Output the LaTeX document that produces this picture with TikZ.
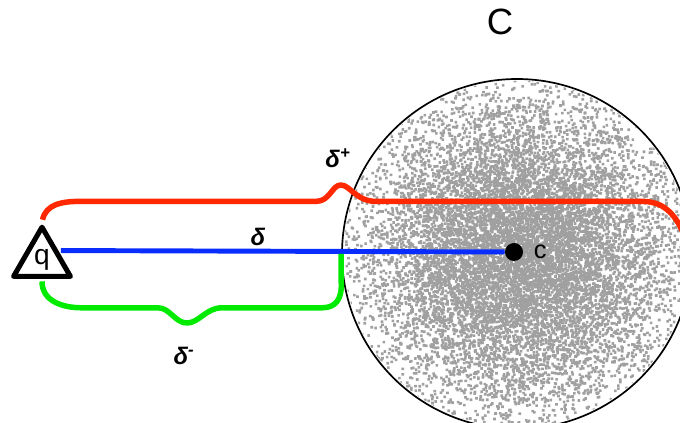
\documentclass[tikz,border=0pt]{standalone}
\usepackage{fontspec}
\setmainfont{Liberation Sans}
\usetikzlibrary{shapes.geometric,positioning,calc}
\definecolor{rim}{RGB}{255,40,0}
\definecolor{ray}{RGB}{10,45,255}
\definecolor{lawn}{RGB}{0,235,0}
\definecolor{speck}{RGB}{160,160,160}
\tikzset{
  bracket/.style={draw=#1,line width=3.9pt,line join=round,shorten <=1.75pt},
  bracket/.default=rim,
  query/.style={regular polygon,regular polygon sides=3,draw,fill=white,
    line width=3.6pt,line join=round,minimum size=1.64cm,inner sep=0pt,
    font=\fontsize{20}{22}\selectfont},
  centre/.style={circle,fill=black,minimum size=0.45cm,inner sep=0pt},
  cluster/.style={circle,draw,line width=1.2pt,minimum size=8.75cm,inner sep=0pt},
  sym/.style={font=\fontsize{17}{19}\selectfont\bfseries\itshape},
}

\begin{document}
\begin{tikzpicture}
  \useasboundingbox (0,0) rectangle (17,10.575);
  % scattered points of the cluster
  \begin{scope}
    \clip (12.925,4.225) circle (4.33);
    \pgfmathsetseed{42}
    \foreach \g in {1,...,72}{
      \fill[speck] foreach \k [evaluate=\k as \rr using {1.95*sqrt(abs(2*ln(0.998*rnd+0.001)))},
          evaluate=\k as \aa using {360*rnd}] in {1,...,180}{
        (12.925,4.225) ++(\aa:\rr) rectangle ++(0.065,0.065)};
    }
  \end{scope}
  \node[cluster] (cset) at (12.925,4.225) {};
  \node[font=\fontsize{26}{30}\selectfont] (cname) at (12.5,10.025) {C};

  \node[query] (q) at (1.05,4.075) {q};
  \node[centre] (c) at (12.85,4.275) {};
  \node[right=4pt of c,font=\fontsize{18}{20}\selectfont] (clab) {c};
  \coordinate (rimend) at (17.15,4.575);

  % distances
  \draw[ray,line width=3.5pt,shorten <=1.8pt] ($(q.corner 1)!0.5!(q.corner 3)$) -- (c);
  \draw[bracket] (q.corner 1) .. controls +(0.1,0.45) and +(-0.45,0) .. (2.0,5.54)
    -- (7.9,5.54) .. controls (8.25,5.54) and (8.3,5.95) .. (8.52,5.95)
    .. controls (8.75,5.95) and (8.9,5.54) .. (9.4,5.54)
    -- (16.05,5.54) .. controls (16.55,5.54) and (16.9,5.275) .. (rimend);
  \draw[bracket=lawn] (q.side 2) .. controls +(0,-0.55) and +(-0.5,0) .. (2.05,2.88)
    -- (3.95,2.88) .. controls (4.25,2.88) and (4.375,2.5) .. (4.675,2.5)
    .. controls (4.975,2.5) and (5.15,2.88) .. (5.55,2.88)
    -- (8.05,2.88) .. controls (8.4,2.88) and (8.56,3.1) .. (cset.west |- 0,3.55)
    -- (cset.west);

  \node[sym] (dlt) at (6.45,4.65) {δ};
  \node[sym] (dltp) at (8.45,6.625) {δ\textsuperscript{+}};
  \node[sym] (dltm) at (4.6,1.675) {δ\textsuperscript{-}};
\end{tikzpicture}
\end{document}
